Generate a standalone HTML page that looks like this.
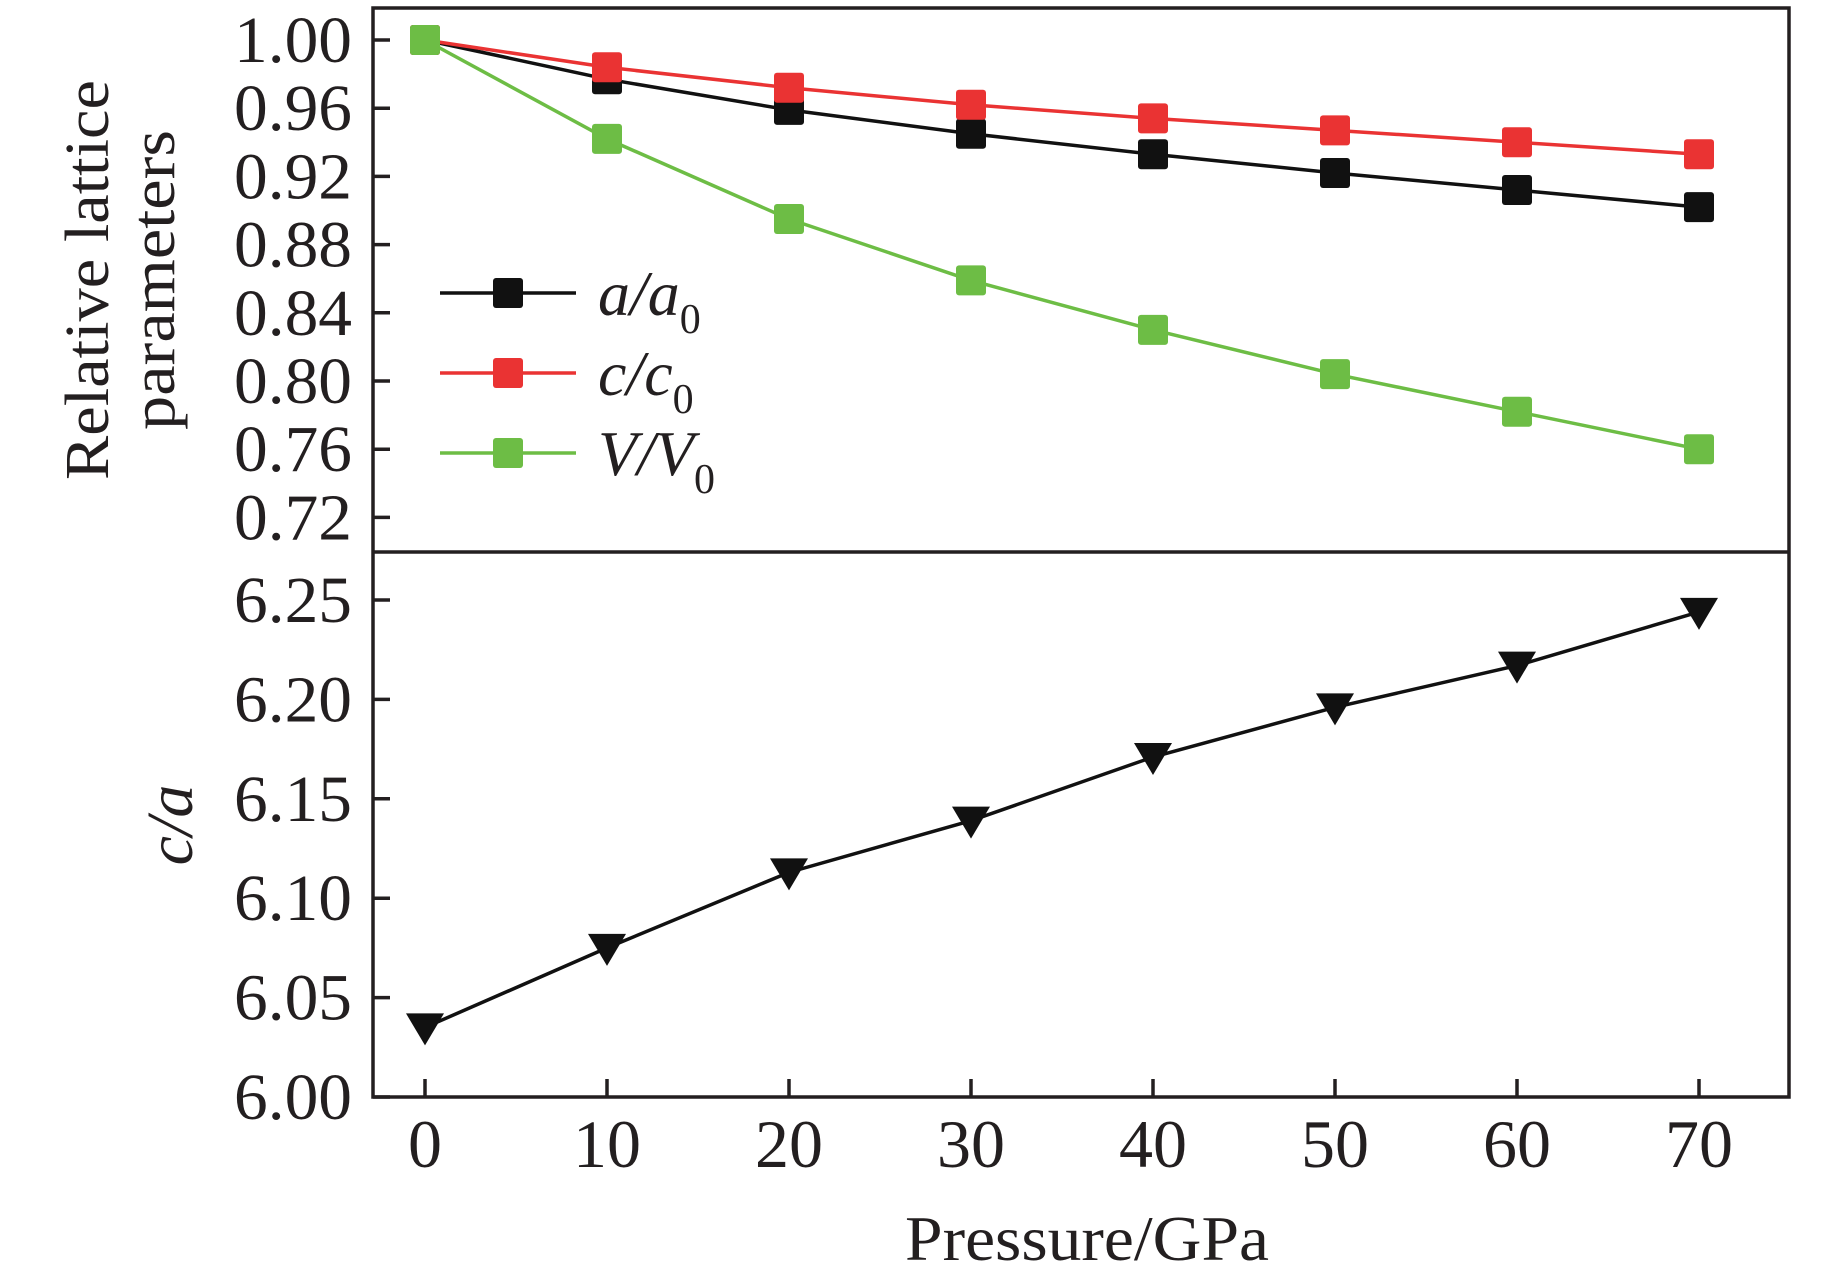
<!DOCTYPE html>
<html><head><meta charset="utf-8"><style>
html,body{margin:0;padding:0;background:#fff}
svg{display:block}
text{font-family:"Liberation Serif",serif;fill:#231f20}
</style></head><body>
<svg id="chart" width="1843" height="1287" viewBox="0 0 1843 1287">
<g id="g"></g>
</svg>
<script>
const pressures=[0,10,20,30,40,50,60,70];
const aRatio=[1.000,0.977,0.959,0.945,0.933,0.922,0.912,0.902];
const cRatio=[1.000,0.984,0.972,0.962,0.954,0.947,0.940,0.933];
const vRatio=[1.000,0.942,0.895,0.859,0.830,0.804,0.782,0.760];
const caRatio=[6.035,6.075,6.113,6.139,6.171,6.196,6.217,6.244];
const topTicks=["1.00","0.96","0.92","0.88","0.84","0.80","0.76","0.72"];
const botTicks=["6.00","6.05","6.10","6.15","6.20","6.25"];
const xTicks=["0","10","20","30","40","50","60","70"];

const NS="http://www.w3.org/2000/svg";
const g=document.getElementById('g');
function el(tag,attrs,parent){const e=document.createElementNS(NS,tag);for(const k in attrs)e.setAttribute(k,attrs[k]);(parent||g).appendChild(e);return e;}
const L=373,R=1789,T=8,MID=552,B=1097;
const xs=p=>425+(p/10)*182;
const yTop=v=>40+(1.00-v)/0.04*68.2;
const yBot=v=>B-(v-6.00)/0.05*99.4;
const dark="#231f20";

let f=el('rect',{x:L,y:T,width:R-L,height:B-T,fill:'none',stroke:dark,'stroke-width':3.5});


let sep=el('line',{x1:L,y1:MID,x2:R,y2:MID,stroke:dark,'stroke-width':3.5});



topTicks.forEach(t=>{const y=yTop(parseFloat(t));
 const tk=el('line',{x1:L,y1:y,x2:L+17,y2:y,stroke:dark,'stroke-width':3.5});
 
 
 const tx=el('text',{x:L-21,y:y+22,'text-anchor':'end','font-size':66,textLength:118,lengthAdjust:'spacingAndGlyphs'});tx.textContent=t;
 
 
});
botTicks.forEach(t=>{const y=yBot(parseFloat(t));
 const tk=el('line',{x1:L,y1:y,x2:L+17,y2:y,stroke:dark,'stroke-width':3.5});
 
 
 const tx=el('text',{x:L-21,y:y+22,'text-anchor':'end','font-size':66,textLength:118,lengthAdjust:'spacingAndGlyphs'});tx.textContent=t;
 
 
});
xTicks.forEach(t=>{const x=xs(parseFloat(t));
 const tk=el('line',{x1:x,y1:B,x2:x,y2:B-18,stroke:dark,'stroke-width':3.5});
 
 
 const tx=el('text',{x:x,y:1167,'text-anchor':'middle','font-size':68});tx.textContent=t;
 
 
});

let xt=el('text',{x:1087,y:1260,'text-anchor':'middle','font-size':64,textLength:364,lengthAdjust:'spacingAndGlyphs'});xt.textContent='Pressure/GPa';


let yt1=el('text',{x:0,y:0,'text-anchor':'middle','font-size':62,transform:'translate(108,280) rotate(-90)',textLength:400,lengthAdjust:'spacingAndGlyphs'});yt1.textContent='Relative lattice';


let yt2=el('text',{x:0,y:0,'text-anchor':'middle','font-size':62,transform:'translate(174,280) rotate(-90)',textLength:300,lengthAdjust:'spacingAndGlyphs'});yt2.textContent='parameters';


let yt3=el('text',{x:0,y:0,'text-anchor':'middle','font-size':66,'font-style':'italic',transform:'translate(192,825) rotate(-90)'});yt3.textContent='c/a';



function series(vals,color,name,yf){
 const pts=vals.map((v,i)=>xs(pressures[i])+','+yf(v)).join(' ');
 const pl=el('polyline',{points:pts,fill:'none',stroke:color,'stroke-width':3.5});
 
 
 vals.forEach((v,i)=>{
  const r=el('rect',{x:xs(pressures[i])-15,y:yf(v)-15,width:30,height:30,rx:3,fill:color});
  
  
 });
}
series(aRatio,'#111111','a-a0',yTop);
series(cRatio,'#ea3333','c-c0',yTop);
series(vRatio,'#6dbd45','v-v0',yTop);

const capts=caRatio.map((v,i)=>xs(pressures[i])+','+yBot(v)).join(' ');
let cal=el('polyline',{points:capts,fill:'none',stroke:'#111','stroke-width':3.5});


caRatio.forEach((v,i)=>{const x=xs(pressures[i]),y=yBot(v);
 const tri=el('polygon',{points:`${x-19},${y-14} ${x+19},${y-14} ${x},${y+18}`,fill:'#111'});
 
 
});

const leg=[['#111111','a','a'],['#ea3333','c','c'],['#6dbd45','V','V']];
const legY=[293,373,453];
leg.forEach((d,i)=>{const y=legY[i];
 const gr=el('g',{});
 
 
 el('line',{x1:440,y1:y,x2:576,y2:y,stroke:d[0],'stroke-width':3.5},gr);
 el('rect',{x:493,y:y-15,width:30,height:30,rx:3,fill:d[0]},gr);
 const t=el('text',{x:598,y:y+22,'font-size':64,'font-style':'italic'},gr);
 t.innerHTML=`${d[1]}/${d[2]}<tspan font-style="normal" font-size="42" dy="18">0</tspan>`;
});
</script>
</body></html>
